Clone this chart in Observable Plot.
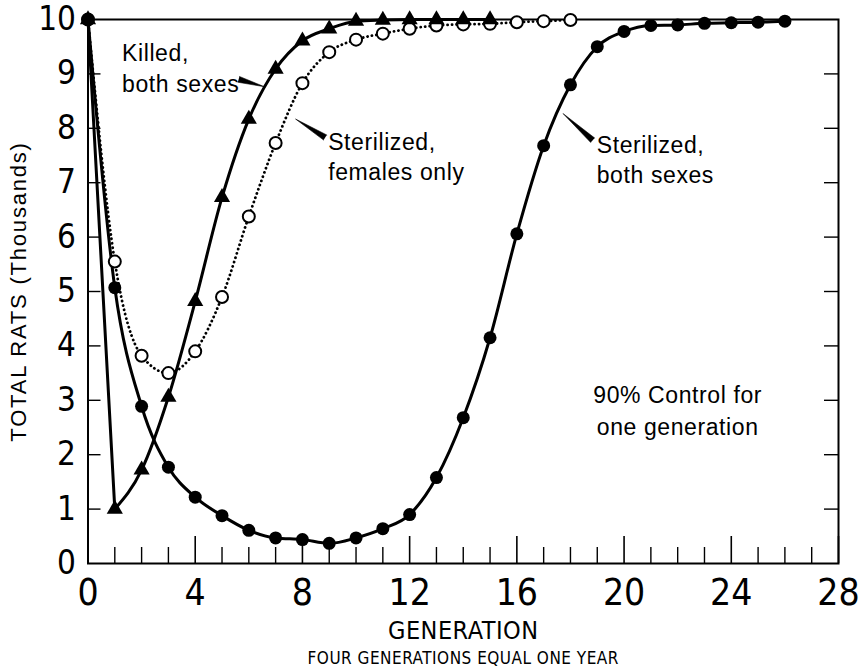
<!DOCTYPE html>
<html>
<head>
<meta charset="utf-8">
<script src="https://cdn.jsdelivr.net/npm/d3@7"></script>
<script src="https://cdn.jsdelivr.net/npm/@observablehq/plot@0.6"></script>
<style>
  html, body { margin: 0; padding: 0; background: #fff; }
  #chart svg { display: block; }
  .ylab text { letter-spacing: 1.8px; }
  .note text { letter-spacing: 0.6px; }
  .xlab text { letter-spacing: 0.5px; }
</style>
</head>
<body>
<div id="chart"></div>
<script>
// Generations (x) and total rats in thousands (y) for each control method
const killedGen = [0, 1, 2, 3, 4, 5, 6, 7, 8, 9, 10, 11, 12, 13, 14, 15];
const killedRats = [10, 1.0, 1.72, 3.06, 4.82, 6.73, 8.17, 9.09, 9.61, 9.83, 9.97, 9.99, 10, 10, 10, 10];

const femalesGen = [0, 1, 2, 3, 4, 5, 6, 7, 8, 9, 10, 11, 12, 13, 14, 15, 16, 17, 18];
const femalesRats = [10, 5.55, 3.82, 3.5, 3.9, 4.9, 6.38, 7.73, 8.83, 9.4, 9.63, 9.74, 9.83, 9.89, 9.91, 9.92, 9.95, 9.97, 9.99];

const bothGen = [0, 1, 2, 3, 4, 5, 6, 7, 8, 9, 10, 11, 12, 13, 14, 15, 16, 17, 18, 19, 20, 21, 22, 23, 24, 25, 26];
const bothRats = [10, 5.07, 2.89, 1.77, 1.22, 0.88, 0.61, 0.47, 0.44, 0.37, 0.47, 0.64, 0.9, 1.58, 2.68, 4.15, 6.06, 7.68, 8.8, 9.5, 9.78, 9.89, 9.9, 9.93, 9.94, 9.95, 9.97];

// Tick labels
const xTickLabels = [0, 4, 8, 12, 16, 20, 24, 28];
const xMinorTicks = [1, 2, 3, 5, 6, 7, 9, 10, 11, 13, 14, 15, 17, 18, 19, 21, 22, 23, 25, 26, 27];
const yTickLabels = [0, 1, 2, 3, 4, 5, 6, 7, 8, 9, 10];
const yInnerTicks = [1, 2, 3, 4, 5, 6, 7, 8, 9];

// Annotations (text + pointer wedges), anchored in data units
const labelTexts = ["Killed,\nboth sexes", "Sterilized,\nfemales only", "Sterilized,\nboth sexes", "90% Control for\none generation"];
const labelGen = [1.27, 8.96, 18.98, 22.0];
const labelRats = [9.13, 7.5, 7.45, 2.84];
const labelAnchor = ["start", "start", "start", "middle"];

const pointerGen = [5.62, 8.85, 18.83];
const pointerRats = [8.9, 7.83, 7.78];
const pointerAngle = [106, -58, -48];
const pointerLength = [27, 35, 40];

const narrow = "'Liberation Sans Narrow', 'DejaVu Sans Condensed', 'Liberation Sans', sans-serif";
const sans = "'Liberation Sans', Arial, sans-serif";

const killed = killedGen.map((g, i) => ({g, v: killedRats[i]}));
const females = femalesGen.map((g, i) => ({g, v: femalesRats[i]}));
const both = bothGen.map((g, i) => ({g, v: bothRats[i]}));
const labels = labelTexts.map((t, i) => ({t, g: labelGen[i], v: labelRats[i], a: labelAnchor[i]}));
const pointers = pointerGen.map((g, i) => ({g, v: pointerRats[i], r: pointerAngle[i], l: pointerLength[i]}));

const frameW = 859 - 87.5 - 21;
const frameH = 668 - 19 - 105;

const chart = Plot.plot({
  width: 859,
  height: 668,
  marginLeft: 87.5,
  marginRight: 21,
  marginTop: 19,
  marginBottom: 105,
  x: {domain: [0, 28]},
  y: {domain: [0, 10]},
  length: {type: "identity"},
  style: {fontFamily: sans, color: "#000", background: "#fff"},
  marks: [
    Plot.frame({stroke: "#000", strokeWidth: 2}),
    // inward ticks
    Plot.ruleX(xMinorTicks, {x: d => d, insetTop: frameH - 16, stroke: "#000", strokeWidth: 1.4}),
    Plot.ruleX(xTickLabels, {x: d => d, insetTop: frameH - 27, stroke: "#000", strokeWidth: 1.6}),
    Plot.ruleY(yInnerTicks, {y: d => d, insetRight: frameW - 13, stroke: "#000", strokeWidth: 1.4}),
    Plot.ruleY(yInnerTicks, {y: d => d, insetLeft: frameW - 14, stroke: "#000", strokeWidth: 1.4}),
    Plot.axisX({ticks: xTickLabels, tickSize: 0, tickPadding: 15, fontSize: 37, fontFamily: narrow, label: null}),
    Plot.axisY({ticks: yTickLabels, tickSize: 0, tickPadding: 12, fontSize: 33, fontFamily: narrow, label: null}),
    // curves
    Plot.line(killed.slice(0, 2), {x: "g", y: "v", stroke: "#000", strokeWidth: 3}),
    Plot.line(killed.slice(1), {x: "g", y: "v", curve: "monotone-x", stroke: "#000", strokeWidth: 3}),
    Plot.line(females, {x: "g", y: "v", curve: "monotone-x", stroke: "#000", strokeWidth: 2.8, strokeDasharray: "0.1 4.4", strokeLinecap: "round"}),
    Plot.line(both, {x: "g", y: "v", curve: "monotone-x", stroke: "#000", strokeWidth: 3}),
    // markers
    Plot.dot(females, {x: "g", y: "v", r: 6, fill: "#fff", stroke: "#000", strokeWidth: 2}),
    Plot.dot(both, {x: "g", y: "v", r: 6.5, fill: "#000", stroke: "none"}),
    Plot.dot(killed, {x: "g", y: "v", symbol: "triangle", r: 6, fill: "#000", stroke: "none"}),
    // annotations
    Plot.vector(pointers, {x: "g", y: "v", rotate: "r", length: "l", shape: "spike", anchor: "start", r: 3, fill: "#000", stroke: "#000", strokeWidth: 0.5}),
    Plot.text(labels.filter(d => d.a === "start"), {x: "g", y: "v", text: "t", textAnchor: "start", lineAnchor: "middle", fontSize: 23, lineHeight: 1.32, fill: "#000", fontFamily: sans, className: "note"}),
    Plot.text(labels.filter(d => d.a === "middle"), {x: "g", y: "v", text: "t", textAnchor: "middle", lineAnchor: "middle", fontSize: 23, lineHeight: 1.4, fill: "#000", fontFamily: sans, className: "note"}),
    // axis titles
    Plot.text(["GENERATION"], {text: d => d, frameAnchor: "bottom", textAnchor: "middle", lineAnchor: "middle", dy: 67, fontSize: 25, fontFamily: narrow, fill: "#000", className: "xlab"}),
    Plot.text(["FOUR GENERATIONS EQUAL ONE YEAR"], {text: d => d, frameAnchor: "bottom", textAnchor: "middle", lineAnchor: "middle", dy: 95, fontSize: 17, fontFamily: narrow, fill: "#000", className: "xlab"}),
    Plot.text(["TOTAL RATS (Thousands)"], {text: d => d, frameAnchor: "left", textAnchor: "middle", lineAnchor: "middle", dx: -69, rotate: -90, fontSize: 22, fontFamily: sans, fill: "#000", className: "ylab"})
  ]
});
document.getElementById("chart").appendChild(chart);
</script>
</body>
</html>
